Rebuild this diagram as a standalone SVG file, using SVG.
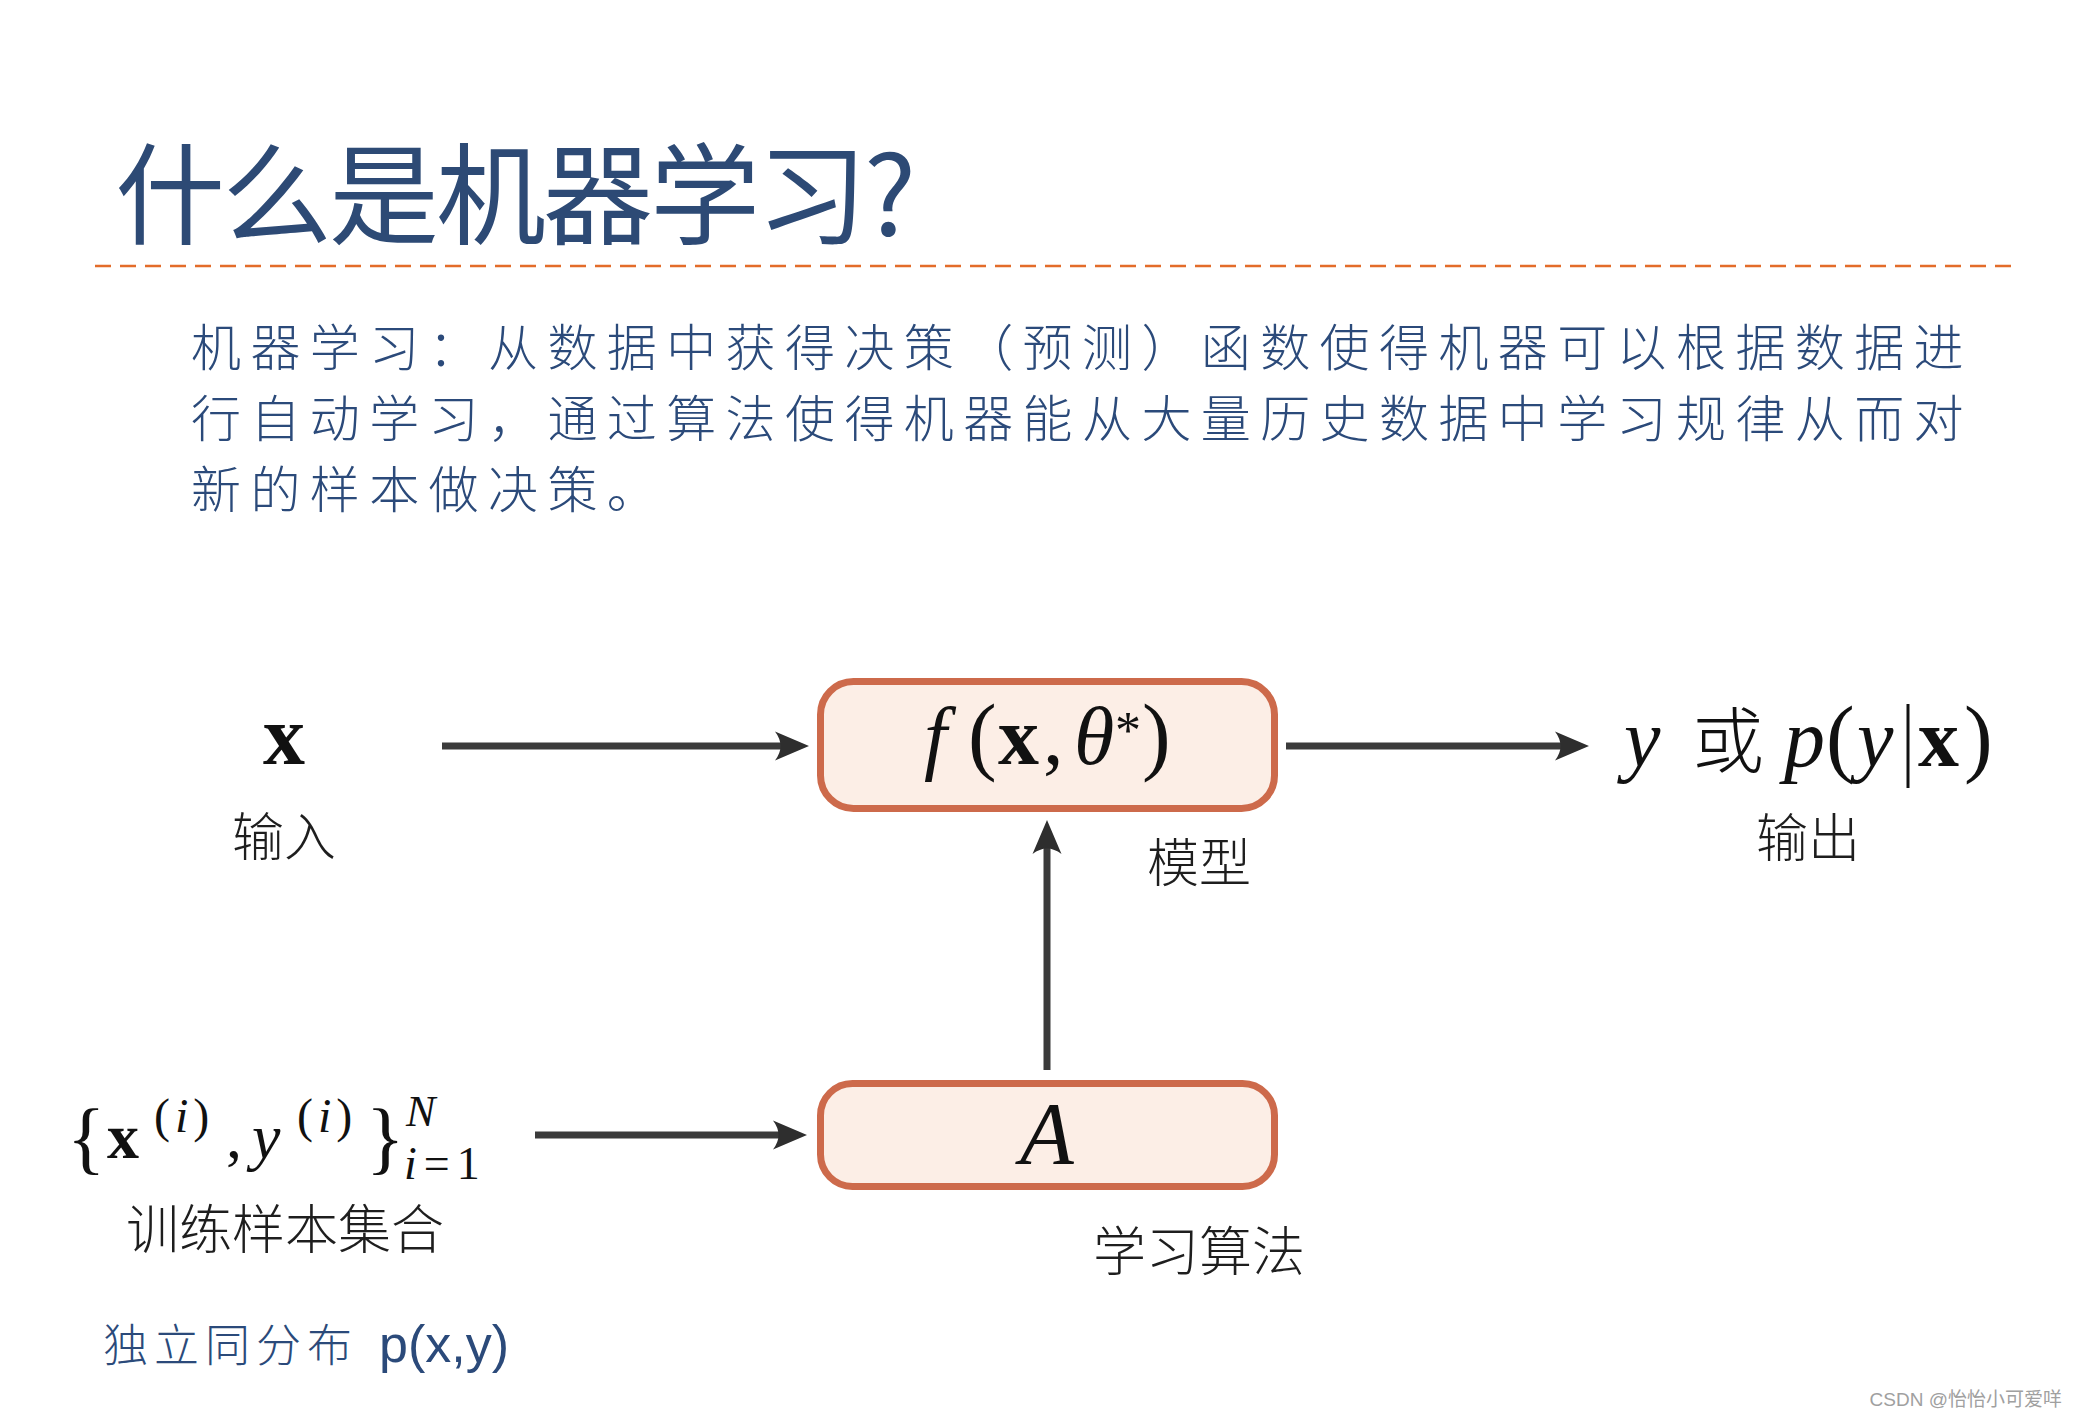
<svg xmlns="http://www.w3.org/2000/svg" width="2077" height="1425" viewBox="0 0 2077 1425">
<defs>
<style>
.title{font-family:"Noto Sans CJK SC","Noto Sans",sans-serif;font-size:110px;fill:#2D4A75;letter-spacing:-3px}
.body{font-family:"Noto Sans CJK SC","Noto Sans",sans-serif;font-size:50px;font-weight:300;fill:#2B4A7A;letter-spacing:9.4px}
.cn{font-family:"Noto Sans CJK SC",sans-serif;font-weight:300;fill:#1E1E1E;text-anchor:middle}
.m{font-family:"Liberation Serif","Times New Roman",serif;fill:#111}
.mi{font-family:"Liberation Serif","Times New Roman",serif;font-style:italic;fill:#111}
.mb{font-family:"Liberation Serif","Times New Roman",serif;font-weight:bold;fill:#111}
.box{fill:#FCEEE6;stroke:#CD6A4B;stroke-width:7}
.conn{stroke:#3B3B3B;stroke-width:7;fill:none;marker-end:url(#ah)}
</style>
<marker id="ah" markerUnits="userSpaceOnUse" viewBox="0 0 38 32" refX="16" refY="16" markerWidth="38" markerHeight="32" orient="auto">
<path d="M38,16 L4,1.5 Q15,16 4,30.5 Z" fill="#2E2E2E"/>
</marker>
</defs>
<rect width="2077" height="1425" fill="#FFFFFF"/>

<g id="title">
<text class="title" x="115" y="236">什么是机器学习?</text>
<line x1="95" y1="266" x2="2016" y2="266" stroke="#E36C2A" stroke-width="2.5" stroke-dasharray="16 9"/>
</g>

<g id="description">
<text class="body" x="191" y="366">机器学习：从数据中获得决策（预测）函数使得机器可以根据数据进</text>
<text class="body" x="191" y="437">行自动学习，通过算法使得机器能从大量历史数据中学习规律从而对</text>
<text class="body" x="191" y="508">新的样本做决策。</text>
</g>

<g id="connectors">
<line class="conn" x1="442" y1="746" x2="787" y2="746"/>
<line class="conn" x1="1286" y1="746" x2="1567" y2="746"/>
<line class="conn" x1="1047" y1="1070" x2="1047" y2="842"/>
<line class="conn" x1="535" y1="1135" x2="785" y2="1135"/>
</g>

<g id="input">
<text class="mb" x="284" y="764" font-size="84" text-anchor="middle">x</text>
<text class="cn" x="284" y="856" font-size="52">输入</text>
</g>

<g id="model">
<rect class="box" x="820.5" y="681.5" width="454" height="127" rx="33"/>
<text class="mi" x="924" y="764" font-size="82">f</text>
<text class="m" x="968" y="764" font-size="86">(</text>
<text class="mb" x="998" y="764" font-size="82">x</text>
<text class="m" x="1043" y="764" font-size="82">,</text>
<text class="mi" x="1074" y="764" font-size="82">θ</text>
<text class="m" x="1115" y="748" font-size="52">*</text>
<text class="m" x="1142" y="764" font-size="86">)</text>
<text class="cn" x="1199" y="882" font-size="52">模型</text>
</g>

<g id="output">
<text class="mi" x="1624" y="766" font-size="82">y</text>
<text x="1692" y="767" font-size="72" font-family="Noto Sans CJK SC,sans-serif" font-weight="300" fill="#111">或</text>
<text class="mi" x="1784" y="766" font-size="82">p</text>
<text class="m" x="1826" y="766" font-size="86">(</text>
<text class="mi" x="1857" y="766" font-size="82">y</text>
<line x1="1908" y1="704" x2="1908" y2="788" stroke="#111" stroke-width="3"/>
<text class="mb" x="1918" y="766" font-size="82">x</text>
<text class="m" x="1964" y="766" font-size="86">)</text>
<text class="cn" x="1808" y="857" font-size="52">输出</text>
</g>

<g id="algorithm">
<rect class="box" x="820.5" y="1083.5" width="454" height="103" rx="32"/>
<text class="mi" x="1047" y="1163" font-size="88" text-anchor="middle">A</text>
<text class="cn" x="1199" y="1271" font-size="53">学习算法</text>
</g>

<g id="training-set">
<text class="m" x="67" y="1164" font-size="80">{</text>
<text class="mb" x="107" y="1158" font-size="64">x</text>
<text class="m" x="154" y="1132" font-size="48" letter-spacing="5">(<tspan class="mi">i</tspan>)</text>
<text class="m" x="226" y="1158" font-size="64">,</text>
<text class="mi" x="252" y="1158" font-size="64">y</text>
<text class="m" x="297" y="1132" font-size="48" letter-spacing="5">(<tspan class="mi">i</tspan>)</text>
<text class="m" x="366" y="1164" font-size="80">}</text>
<text class="mi" x="406" y="1126" font-size="44">N</text>
<text class="m" x="404" y="1179" font-size="46" letter-spacing="7"><tspan class="mi">i</tspan>=1</text>
<text class="cn" x="285" y="1249" font-size="53">训练样本集合</text>
</g>

<g id="distribution">
<text x="103" y="1362" font-family="Noto Sans CJK SC,sans-serif" font-weight="300" font-size="45" letter-spacing="6" fill="#2B4A7A">独立同分布</text>
<text x="379" y="1362" font-family="Liberation Sans,Arial,sans-serif" font-size="52" fill="#2B4A7A">p(x,y)</text>
</g>

<g id="watermark">
<text x="2062" y="1406" font-family="Liberation Sans,Noto Sans CJK SC,sans-serif" font-size="19" fill="#A0A0A0" text-anchor="end">CSDN @怡怡小可爱咩</text>
</g>
</svg>
